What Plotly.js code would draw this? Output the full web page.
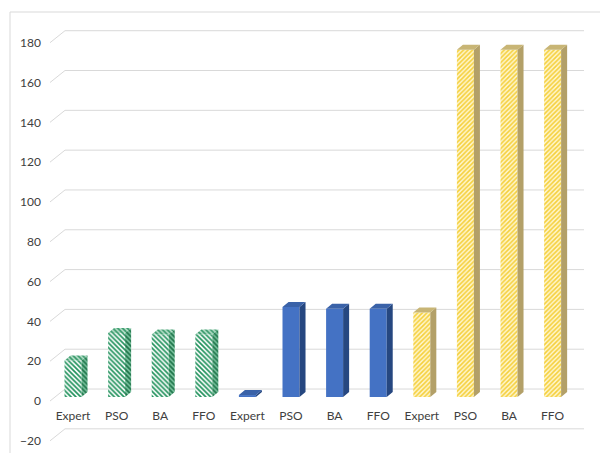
<!DOCTYPE html>
<html>
<head>
<meta charset="utf-8">
<script src="https://cdn.plot.ly/plotly-3.0.1.min.js"></script>
<style>
  html, body { margin: 0; padding: 0; background: #ffffff; }
  #chart { width: 600px; height: 453px; }
</style>
</head>
<body>
<div id="chart"></div>
<script>
// Method names repeated for each of the three cases
const methods = ['Expert', 'PSO', 'BA', 'FFO'];

// Values for each case, in method order
const caseOneValues = [18.4, 32.2, 31.4, 31.4];
const caseTwoValues = [1.0, 45.2, 44.3, 44.3];
const caseThreeValues = [42.5, 174.5, 174.5, 174.5];

// Value-axis ticks
const yTicks = [-20, 0, 20, 40, 60, 80, 100, 120, 140, 160, 180];

// ---- drawing constants ----
const Y_RANGE = [-24.1, 189.4];
const X_RANGE = [-0.5275, 11.72];
const HALF_W = 0.195;          // half of the bar front width (x units)
const DEPTH_X = 0.138;         // oblique depth, x units
const DEPTH_Y = 2.51;          // oblique depth, y units
const LABEL_SHIFT = 2.01;      // front (label) plane sits a little below the bar plane

const groups = [
  {
    vals: caseOneValues,
    front: { shape: '\\', fg: '#23935e', bg: '#ffffff', size: 3.4, solidity: 0.5 },
    side: { color: '#3f9a6d', fg: '#1d7449', bg: '#7cc3a0' },
    top: { color: '#6fbd95', fg: '#2f9464', bg: '#bfe4cf' }
  },
  {
    vals: caseTwoValues,
    frontColor: '#4472c4',
    side: { color: '#264780' },
    top: { color: '#3a62a8' }
  },
  {
    vals: caseThreeValues,
    front: { shape: '/', fg: '#f5cf3a', bg: '#fff7cf', size: 3.2, solidity: 0.5 },
    side: { color: '#b3a068' },
    top: { color: '#c8b575' }
  }
];

const traces = [];

groups.forEach((g, gi) => {
  const xs = g.vals.map((_, i) => gi * methods.length + i);

  // front faces
  const marker = { line: { width: 0 } };
  if (g.front) {
    marker.color = g.front.bg;
    marker.pattern = {
      shape: g.front.shape, fgcolor: g.front.fg, bgcolor: g.front.bg,
      size: g.front.size, solidity: g.front.solidity, fillmode: 'replace'
    };
  } else {
    marker.color = g.frontColor;
  }
  traces.push({
    type: 'bar', x: xs, y: g.vals, base: 0, width: HALF_W * 2,
    marker: marker, hoverinfo: 'skip', showlegend: false
  });

  // side and top faces as oblique polygons
  const sx = [], sy = [], tx = [], ty = [];
  xs.forEach((c, i) => {
    const v = g.vals[i];
    const xl = c - HALF_W, xr = c + HALF_W;
    sx.push(xr, xr, xr + DEPTH_X, xr + DEPTH_X, xr, null);
    sy.push(0, v, v + DEPTH_Y, DEPTH_Y, 0, null);
    tx.push(xl, xr, xr + DEPTH_X, xl + DEPTH_X, xl, null);
    ty.push(v, v, v + DEPTH_Y, v + DEPTH_Y, v, null);
  });
  const faceTrace = (x, y, st) => {
    const t = {
      type: 'scatter', mode: 'lines', x: x, y: y, fill: 'toself',
      fillcolor: st.color, line: { width: 0, color: st.color },
      hoverinfo: 'skip', showlegend: false
    };
    if (st.fg) {
      t.fillpattern = { shape: '\\', fgcolor: st.fg, bgcolor: st.bg, size: 3.4, solidity: 0.5 };
    }
    return t;
  };
  traces.push(faceTrace(sx, sy, g.side));
  traces.push(faceTrace(tx, ty, g.top));
});

// Gridlines: short oblique run from the front plane back to the wall, then across
const shapes = yTicks.map(v => ({
  type: 'path', xref: 'paper', yref: 'y',
  xsizemode: 'pixel', ysizemode: 'pixel', xanchor: 0, yanchor: v,
  path: 'M0,-4L15,8L534,8',
  line: { color: '#d9d9d9', width: 1 }, layer: 'below'
}));
// Chart frame
shapes.push({
  type: 'rect', xref: 'paper', yref: 'paper',
  x0: -0.0749, x1: 1.1, y0: -0.1, y1: 1.0188,
  line: { color: '#d9d9d9', width: 1 }, fillcolor: 'rgba(0,0,0,0)', layer: 'below'
});

const tickVals = [];
const tickText = [];
for (let gi = 0; gi < groups.length; gi++) {
  methods.forEach((m, i) => { tickVals.push(gi * methods.length + i); tickText.push(m); });
}

const labelFont = 'Lato, "Open Sans", sans-serif';

const layout = {
  width: 600, height: 453,
  margin: { l: 50, r: 16, t: 20, b: 8 },
  paper_bgcolor: '#ffffff', plot_bgcolor: 'rgba(0,0,0,0)',
  font: { family: labelFont, color: '#404040', size: 12 },
  barmode: 'overlay',
  xaxis: {
    range: X_RANGE, fixedrange: true,
    tickmode: 'array', tickvals: tickVals, ticktext: tickText,
    showgrid: false, zeroline: false, showline: false, ticks: '',
    anchor: 'free', position: 0.0894,
    tickfont: { family: labelFont, size: 12, color: '#404040' }
  },
  yaxis: {
    range: Y_RANGE, fixedrange: true,
    showgrid: false, zeroline: false, showline: false,
    showticklabels: false, ticks: ''
  },
  yaxis2: {
    overlaying: 'y', side: 'left',
    range: [Y_RANGE[0] + LABEL_SHIFT, Y_RANGE[1] + LABEL_SHIFT], fixedrange: true,
    tickmode: 'array', tickvals: yTicks,
    showgrid: false, zeroline: false, showline: false, ticks: '',
    ticklabelstandoff: 8,
    tickfont: { family: labelFont, size: 12, color: '#404040' }
  },
  shapes: shapes
};

// empty trace so the label axis is rendered
traces.push({
  type: 'scatter', x: [null], y: [null], yaxis: 'y2',
  hoverinfo: 'skip', showlegend: false
});

Plotly.newPlot('chart', traces, layout, { displayModeBar: false, staticPlot: true });
</script>
</body>
</html>
